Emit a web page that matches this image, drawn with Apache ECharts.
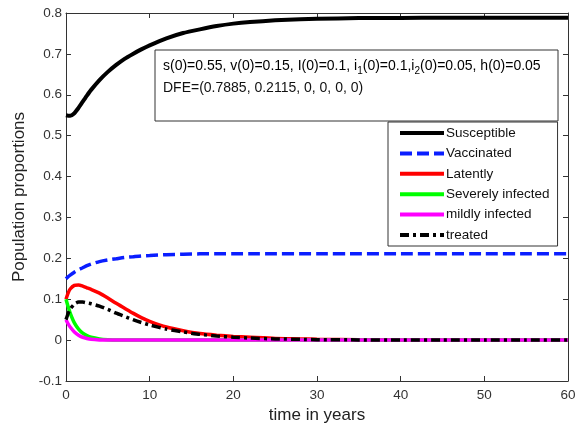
<!DOCTYPE html>
<html>
<head>
<meta charset="utf-8">
<script src="https://cdn.jsdelivr.net/npm/echarts@6/dist/echarts.min.js"></script>
<style>
  html, body { margin: 0; padding: 0; background: #fff; }
  #main { width: 576px; height: 425px; }
</style>
</head>
<body>
<div id="main"></div>
<script>
// time points (years)
var t = [0, 0.25, 0.5, 1, 1.5, 2, 2.5, 3, 4, 5, 6, 7, 8, 9, 10, 12, 14, 16, 18, 20, 22, 25, 28, 30, 35, 40, 45, 50, 55, 60];

var susceptible = [0.55, 0.549, 0.549, 0.555, 0.568, 0.583, 0.598, 0.612, 0.636, 0.656, 0.673, 0.688, 0.700, 0.711, 0.721, 0.738, 0.751, 0.760, 0.768, 0.774, 0.778, 0.782, 0.785, 0.786, 0.7875, 0.788, 0.7883, 0.7885, 0.7885, 0.7885];
var vaccinated  = [0.15, 0.155, 0.159, 0.166, 0.172, 0.177, 0.182, 0.186, 0.192, 0.196, 0.199, 0.202, 0.204, 0.206, 0.207, 0.209, 0.210, 0.211, 0.2112, 0.2113, 0.2114, 0.2115, 0.2115, 0.2115, 0.2115, 0.2115, 0.2115, 0.2115, 0.2115, 0.2115];
var latently    = [0.10, 0.115, 0.125, 0.134, 0.135, 0.132, 0.128, 0.124, 0.115, 0.103, 0.090, 0.078, 0.066, 0.055, 0.046, 0.032, 0.023, 0.016, 0.012, 0.009, 0.007, 0.004, 0.003, 0.002, 0.001, 0.0005, 0, 0, 0, 0];
var severely    = [0.10, 0.082, 0.066, 0.042, 0.027, 0.017, 0.011, 0.007, 0.003, 0.001, 0, 0, 0, 0, 0, 0, 0, 0, 0, 0, 0, 0, 0, 0, 0, 0, 0, 0, 0, 0];
var mildly      = [0.05, 0.040, 0.032, 0.020, 0.012, 0.007, 0.004, 0.002, 0.0005, 0, 0, 0, 0, 0, 0, 0, 0, 0, 0, 0, 0, 0, 0, 0, 0, 0, 0, 0, 0, 0];
var treated     = [0.05, 0.065, 0.076, 0.088, 0.093, 0.093, 0.091, 0.089, 0.083, 0.075, 0.066, 0.058, 0.050, 0.043, 0.037, 0.027, 0.020, 0.014, 0.010, 0.007, 0.005, 0.003, 0.002, 0.001, 0.0005, 0, 0, 0, 0, 0];

var xTicks = { min: 0, max: 60, interval: 10 };
var yTicks = { min: -0.1, max: 0.8, interval: 0.1 };

function pairs(vals) {
  return t.map(function (x, i) { return [x, vals[i]]; });
}

var axisColor = '#333';
var font = 'Liberation Sans, Arial, sans-serif';

function mirrorAxis(pos, lim) {
  return {
    type: 'value', position: pos, min: lim.min, max: lim.max, interval: lim.interval,
    axisLine: { show: true, onZero: false, lineStyle: { color: axisColor, width: 1 } },
    axisTick: { show: true, inside: true, length: 5, lineStyle: { color: axisColor } },
    axisLabel: { show: false },
    splitLine: { show: false }
  };
}

var myChart = echarts.init(document.getElementById('main'), null, { renderer: 'canvas' });
myChart.setOption({
  animation: false,
  backgroundColor: '#fff',
  textStyle: { fontFamily: font },
  grid: { left: 66, right: 8, top: 13, bottom: 44, containLabel: false, outerBoundsMode: 'none' },
  xAxis: [{
    type: 'value', min: xTicks.min, max: xTicks.max, interval: xTicks.interval,
    name: 'time in years', nameLocation: 'middle', nameGap: 24,
    nameTextStyle: { fontSize: 17, color: '#222', fontFamily: font },
    axisLine: { show: true, onZero: false, lineStyle: { color: axisColor, width: 1 } },
    axisTick: { show: true, inside: true, length: 5, lineStyle: { color: axisColor } },
    axisLabel: { fontSize: 13.5, color: '#333', margin: 7, fontFamily: font },
    splitLine: { show: false }
  }, mirrorAxis('top', xTicks)],
  yAxis: [{
    type: 'value', min: yTicks.min, max: yTicks.max, interval: yTicks.interval,
    name: 'Population proportions', nameLocation: 'middle', nameGap: 36,
    nameTextStyle: { fontSize: 17, color: '#222', fontFamily: font },
    axisLine: { show: true, onZero: false, lineStyle: { color: axisColor, width: 1 } },
    axisTick: { show: true, inside: true, length: 5, lineStyle: { color: axisColor } },
    axisLabel: { fontSize: 13.5, color: '#333', margin: 4, fontFamily: font },
    splitLine: { show: false }
  }, mirrorAxis('right', yTicks)],
  legend: {
    orient: 'vertical', left: 388, top: 122,
    padding: [4, 8, 4, 10], itemGap: 6.4, itemWidth: 44, itemHeight: 14,
    backgroundColor: '#fff', borderColor: '#333', borderWidth: 1,
    itemStyle: { opacity: 0 },
    lineStyle: { width: 4 },
    textStyle: { fontSize: 13.5, color: '#111', fontFamily: font, padding: [0, 0, 0, -3] },
    data: ['Susceptible', 'Vaccinated', 'Latently', 'Severely infected', 'mildly infected', 'treated']
  },
  graphic: [
    { type: 'rect', shape: { x: 155, y: 50, width: 403, height: 71 }, z: 10,
      style: { fill: '#fff', stroke: '#333', lineWidth: 1 } },
    { type: 'text', x: 163, y: 56, z: 11,
      style: {
        text: '{n|s(0)=0.55, v(0)=0.15, I(0)=0.1, i}{s|1}{n|(0)=0.1,i}{s|2}{n|(0)=0.05, h(0)=0.05}',
        fontFamily: font,
        rich: {
          n: { fontSize: 14, color: '#111', fontFamily: font, lineHeight: 20, verticalAlign: 'middle' },
          s: { fontSize: 10, color: '#111', fontFamily: font, lineHeight: 10, verticalAlign: 'bottom' }
        }
      } },
    { type: 'text', x: 163, y: 81, z: 11,
      style: { text: 'DFE=(0.7885, 0.2115, 0, 0, 0, 0)', fontSize: 14, fill: '#111', fontFamily: font } }
  ],
  series: [
    { name: 'Susceptible', type: 'line', data: pairs(susceptible), showSymbol: false, symbol: 'none', smooth: 0.2,
      lineStyle: { color: '#000', width: 4 }, itemStyle: { color: '#000' } },
    { name: 'Vaccinated', type: 'line', data: pairs(vaccinated), showSymbol: false, symbol: 'none', smooth: 0.2,
      lineStyle: { color: '#0a1eff', width: 3.5, type: [12, 5] }, itemStyle: { color: '#0a1eff' } },
    { name: 'Latently', type: 'line', data: pairs(latently), showSymbol: false, symbol: 'none', smooth: 0.2,
      lineStyle: { color: '#ff0000', width: 3.5 }, itemStyle: { color: '#ff0000' } },
    { name: 'Severely infected', type: 'line', data: pairs(severely), showSymbol: false, symbol: 'none', smooth: 0.2,
      lineStyle: { color: '#00ff00', width: 3.5 }, itemStyle: { color: '#00ff00' } },
    { name: 'mildly infected', type: 'line', data: pairs(mildly), showSymbol: false, symbol: 'none', smooth: 0.2,
      lineStyle: { color: '#ff00ff', width: 3.5 }, itemStyle: { color: '#ff00ff' } },
    { name: 'treated', type: 'line', data: pairs(treated), showSymbol: false, symbol: 'none', smooth: 0.2,
      lineStyle: { color: '#000', width: 3.5, type: [9, 4, 3, 4] }, itemStyle: { color: '#000' } }
  ]
});
</script>
</body>
</html>
